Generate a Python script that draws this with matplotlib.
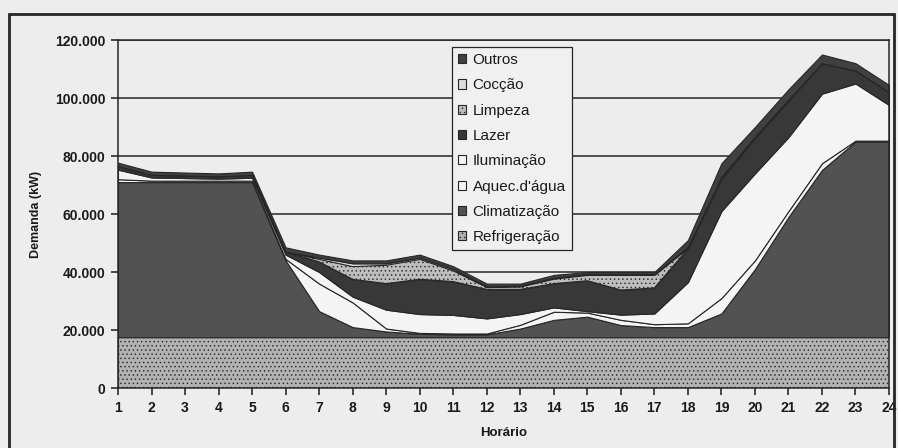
import numpy as np
import matplotlib
matplotlib.use("Agg")
import matplotlib.pyplot as plt
from matplotlib.patches import Rectangle
from matplotlib.ticker import FuncFormatter

# demanda horaria por uso final (kW)
horas = list(range(1, 25))

refrigeracao = [17500, 17500, 17500, 17500, 17500, 17500, 17500, 17500, 17500, 17500, 17500, 17500,
                17500, 17500, 17500, 17500, 17500, 17500, 17500, 17500, 17500, 17500, 17500, 17500]
climatizacao = [53500, 53500, 53500, 53500, 53500, 26500, 9000, 3500, 2000, 1200, 1000, 1000,
                3000, 6000, 7100, 4200, 3500, 3500, 8200, 23500, 41500, 57700, 67500, 67500]
aquec_agua = [1000, 500, 500, 500, 500, 500, 9500, 8500, 1000, 300, 300, 300,
              1300, 2800, 1400, 1800, 1000, 1300, 5300, 3000, 2000, 2300, 300, 300]
iluminacao = [3300, 1100, 900, 700, 1000, 1500, 4000, 2000, 6500, 6500, 6400, 5200,
              3700, 1500, 500, 1800, 3700, 14200, 30000, 30000, 25500, 24000, 19700, 12300]
lazer = [1200, 900, 900, 800, 1000, 1000, 3500, 6000, 9000, 12000, 11500, 10000,
         8500, 8200, 10500, 8500, 8800, 11500, 11000, 12000, 12500, 10500, 4500, 4400]
limpeza = [0, 0, 0, 0, 0, 0, 1000, 4500, 6500, 7000, 3800, 800,
           1000, 1700, 2000, 5200, 4500, 300, 300, 300, 300, 0, 0, 0]
coccao = [0, 0, 0, 0, 0, 0, 500, 1000, 500, 500, 500, 200,
          300, 300, 300, 300, 300, 400, 500, 400, 200, 0, 0, 0]
outros = [1200, 1100, 1000, 1000, 1100, 1500, 1000, 1000, 1000, 1000, 1000, 1000,
          700, 1000, 700, 700, 700, 2300, 4700, 3300, 3500, 3000, 2500, 2500]

series = [
    ("Refrigeração", refrigeracao, "#b2b2b2", "...."),
    ("Climatização", climatizacao, "#525252", None),
    ("Aquec.d'água", aquec_agua, "#f4f4f4", None),
    ("Iluminação", iluminacao, "#f4f4f4", None),
    ("Lazer", lazer, "#383838", None),
    ("Limpeza", limpeza, "#bdbdbd", "...."),
    ("Cocção", coccao, "#dcdcdc", None),
    ("Outros", outros, "#404040", None),
]

BG = "#ededed"
INK = "#1a1a1a"

plt.rcParams['font.family'] = ['Liberation Sans', 'DejaVu Sans']
plt.rcParams['hatch.color'] = '#9c9c9c'
plt.rcParams['hatch.linewidth'] = 0.5

fig = plt.figure(figsize=(8.98, 4.48), dpi=100, facecolor=BG)
ax = fig.add_axes([0.1314, 0.1339, 0.8586, 0.7768])
ax.set_facecolor(BG)

x = np.array(horas)
base = np.zeros(len(x))
handles = []
for nome, vals, cor, hatch in series:
    topo = base + np.array(vals)
    h = ax.fill_between(x, base, topo, facecolor=cor, edgecolor="#262626",
                        linewidth=0.8, hatch=hatch, label=nome, zorder=3)
    handles.append(h)
    base = topo

ax.set_xlim(1, 24)
ax.set_ylim(0, 120000)
ax.set_xticks(horas)
ax.set_yticks(np.arange(0, 120001, 20000))
ax.yaxis.set_major_formatter(FuncFormatter(lambda v, p: f"{int(v):,}".replace(",", ".")))
ax.grid(axis="y", color="#262626", linewidth=1.1, zorder=1)
ax.tick_params(axis="both", direction="out", length=5, width=1.1, color=INK,
               labelsize=10, labelcolor=INK, pad=4)
for lab in ax.get_xticklabels() + ax.get_yticklabels():
    lab.set_fontweight("bold")

for s in ax.spines.values():
    s.set_color("#262626")
    s.set_linewidth(1.1)
    s.set_zorder(4)

ax.set_ylabel("Demanda (kW)", fontsize=9, fontweight="bold", color=INK, labelpad=9)
ax.set_xlabel("Horário", fontsize=9.5, fontweight="bold", color=INK, labelpad=9)

leg = ax.legend(handles[::-1], [s[0] for s in series][::-1], loc="upper left",
                bbox_to_anchor=(0.433, 0.98), fontsize=11, frameon=True,
                fancybox=False, edgecolor="#262626", facecolor="#f0f0f0", framealpha=1,
                handlelength=0.55, handleheight=0.55, handletextpad=0.4,
                labelspacing=0.74, borderpad=0.4, borderaxespad=0)
leg.get_frame().set_linewidth(0.9)
leg.set_zorder(6)
for t in leg.get_texts():
    t.set_color(INK)

# moldura externa
fig.patches.append(Rectangle((0.0095, -0.05), 0.986, 1.018, transform=fig.transFigure,
                             fill=False, edgecolor="#262626", linewidth=2.0))

fig.savefig("out.png", dpi=100, facecolor=BG)
